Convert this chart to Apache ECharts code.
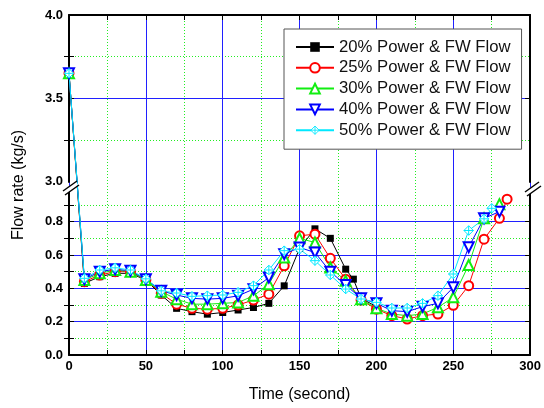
<!DOCTYPE html>
<html><head><meta charset="utf-8">
<script src="https://cdn.jsdelivr.net/npm/echarts@6/dist/echarts.min.js"></script>
<style>html,body{margin:0;padding:0;background:#fff}#c{width:544px;height:408px}</style>
</head><body><div id="c"></div>
<script>
// ---- data ----
const seriesNames = ['20% Power & FW Flow','25% Power & FW Flow','30% Power & FW Flow','40% Power & FW Flow','50% Power & FW Flow'];

const t20 = [0,10,20,30,40,50,60,70,80,90,100,110,120,130,140,150,160,170,180,185,190,200];
const v20 = [3.65,0.43,0.47,0.49,0.49,0.45,0.36,0.28,0.26,0.245,0.255,0.27,0.285,0.31,0.415,0.64,0.757,0.70,0.515,0.455,0.34,0.29];

const t25 = [0,10,20,30,40,50,60,70,80,90,100,110,120,130,140,150,160,170,180,190,200,210,220,230,240,250,260,270,280,285];
const v25 = [3.65,0.44,0.48,0.50,0.50,0.45,0.37,0.305,0.28,0.275,0.28,0.30,0.33,0.365,0.535,0.715,0.725,0.58,0.455,0.33,0.275,0.236,0.216,0.236,0.246,0.298,0.416,0.695,0.82,0.935];

const t30 = [0,10,20,30,40,50,60,70,80,90,100,110,120,130,140,150,160,170,180,190,200,210,220,230,240,250,260,270,280];
const v30 = [3.65,0.45,0.49,0.51,0.50,0.45,0.38,0.335,0.305,0.305,0.31,0.315,0.355,0.425,0.585,0.70,0.675,0.525,0.445,0.335,0.28,0.246,0.236,0.246,0.286,0.346,0.54,0.82,0.905];

const t40 = [0,10,20,30,40,50,60,70,80,90,100,110,120,130,140,150,160,170,180,190,200,210,220,230,240,250,260,270,280];
const v40 = [3.65,0.455,0.50,0.515,0.505,0.455,0.385,0.36,0.34,0.335,0.34,0.355,0.395,0.465,0.605,0.645,0.615,0.50,0.42,0.34,0.31,0.266,0.26,0.29,0.31,0.406,0.647,0.82,0.86];

const t50 = [0,10,20,30,40,50,60,70,80,90,100,110,120,130,140,150,160,170,180,190,200,210,220,230,240,250,260,270,275];
const v50 = [3.65,0.46,0.51,0.523,0.51,0.457,0.385,0.372,0.352,0.356,0.36,0.376,0.416,0.51,0.626,0.635,0.566,0.48,0.396,0.336,0.316,0.282,0.282,0.31,0.356,0.486,0.747,0.817,0.88];

const xMin = 0, xMax = 300, xStep = 50;
const yLabelValues = [0,0.2,0.4,0.6,0.8,3.0,3.5,4.0];
const yMajorValues = [0.2,0.4,0.6,0.8,3.5];
const yMinorValues = [0.1,0.3,0.5,0.7,0.9,3.25,3.75];
const yBreak = {start: 0.98, end: 3.0, gap: 0.06};

// ---- chart ----
const pair = (t, v) => t.map((x, i) => [x, v[i]]);
const FONT = '"Liberation Sans", Arial, sans-serif';
const BLUE = '#2020ff', GREEN = '#22ee22';
const CYAN = '#00e8ff';

const diamondSvg = '<svg xmlns="http://www.w3.org/2000/svg" width="22" height="22" viewBox="0 0 22 22">' +
  '<path d="M11 1.5 L20.5 11 L11 20.5 L1.5 11 Z" fill="#ffffff" stroke="' + CYAN + '" stroke-width="2"/>' +
  '<path d="M11 1.5 V20.5 M1.5 11 H20.5" stroke="' + CYAN + '" stroke-width="2" fill="none"/></svg>';
const diamondSymbol = 'image://data:image/svg+xml;charset=utf-8,' + encodeURIComponent(diamondSvg);

function yAxisBase(pos, extra) {
  return Object.assign({
    type: 'value', position: pos, min: 0, max: 4,
    breaks: [yBreak], breakArea: {show: false},
    axisLine: {show: false},
    axisLabel: {show: false},
    splitLine: {show: false}
  }, extra);
}

const yAxes = [
  yAxisBase('left', {
    axisLine: {show: true, onZero: false, lineStyle: {color: '#000', width: 2}},
    axisTick: {show: true, inside: true, length: 5, customValues: yMajorValues, lineStyle: {color: '#000', width: 1}},
    axisLabel: {show: true, customValues: yLabelValues, margin: 6, fontFamily: FONT, fontWeight: 'bold', fontSize: 13, color: '#000',
      formatter: v => v.toFixed(1)},
    splitLine: {show: true, lineStyle: {color: BLUE, width: 1, type: 'solid'}},
    name: 'Flow rate (kg/s)', nameLocation: 'middle', nameGap: 42,
    nameTextStyle: {fontFamily: FONT, fontSize: 16, color: '#000'}
  }),
  yAxisBase('left', {
    axisTick: {show: true, inside: true, length: 5, customValues: yMinorValues, lineStyle: {color: '#000', width: 1}},
    splitLine: {show: true, lineStyle: {color: GREEN, width: 1, type: [1, 2]}}
  }),
  yAxisBase('right', {
    axisLine: {show: true, onZero: false, lineStyle: {color: '#000', width: 2}},
    axisTick: {show: true, inside: true, length: 5, customValues: yMajorValues, lineStyle: {color: '#000', width: 1}}
  }),
  yAxisBase('right', {
    axisTick: {show: true, inside: true, length: 5, customValues: yMinorValues, lineStyle: {color: '#000', width: 1}}
  })
];

const xAxes = [
  {
    type: 'value', position: 'bottom', min: xMin, max: xMax, interval: xStep,
    axisLine: {show: true, onZero: false, lineStyle: {color: '#000', width: 2}},
    axisTick: {show: true, inside: true, length: 5, lineStyle: {color: '#000', width: 1}},
    minorTick: {show: true, splitNumber: 2, length: 5, lineStyle: {color: '#000', width: 1}},
    axisLabel: {margin: 5, fontFamily: FONT, fontWeight: 'bold', fontSize: 13, color: '#000'},
    splitLine: {show: true, lineStyle: {color: BLUE, width: 1}},
    minorSplitLine: {show: true, lineStyle: {color: GREEN, width: 1, type: [1, 2]}},
    name: 'Time (second)', nameLocation: 'middle', nameGap: 32,
    nameTextStyle: {fontFamily: FONT, fontSize: 16, color: '#000'}
  },
  {
    type: 'value', position: 'top', min: xMin, max: xMax, interval: xStep,
    axisLine: {show: true, onZero: false, lineStyle: {color: '#000', width: 2}},
    axisTick: {show: true, inside: true, length: 5, lineStyle: {color: '#000', width: 1}},
    minorTick: {show: true, splitNumber: 2, length: 5, lineStyle: {color: '#000', width: 1}},
    axisLabel: {show: false},
    splitLine: {show: false}
  }
];

const common = {type: 'line', xAxisIndex: 0, yAxisIndex: 0, animation: false};
const series = [
  Object.assign({}, common, {name: seriesNames[0], data: pair(t20, v20), symbol: 'rect', symbolSize: 7,
    itemStyle: {color: '#000'}, lineStyle: {color: '#000', width: 1}}),
  Object.assign({}, common, {name: seriesNames[1], data: pair(t25, v25), symbol: 'emptyCircle', symbolSize: 9,
    itemStyle: {color: '#ff0000', borderWidth: 1}, lineStyle: {color: '#ff0000', width: 1}}),
  Object.assign({}, common, {name: seriesNames[2], data: pair(t30, v30), symbol: 'emptyTriangle', symbolSize: 10,
    itemStyle: {color: '#11ee11', borderWidth: 1}, lineStyle: {color: '#11ee11', width: 1}}),
  Object.assign({}, common, {name: seriesNames[3], data: pair(t40, v40), symbol: 'emptyTriangle', symbolRotate: 180, symbolSize: 10,
    itemStyle: {color: '#0000ff', borderWidth: 1}, lineStyle: {color: '#0000ff', width: 1}}),
  Object.assign({}, common, {name: seriesNames[4], data: pair(t50, v50),
    symbol: diamondSymbol, symbolSize: 11,
    itemStyle: {color: CYAN}, lineStyle: {color: CYAN, width: 1}})
];

function slash(cx, cy) {
  return [
    {type: 'polygon', shape: {points: [[cx-6, cy+4], [cx+6, cy-5], [cx+8, cy-1], [cx-4, cy+8]]}, style: {fill: '#fff'}, z: 100},
    {type: 'line', shape: {x1: cx-7, y1: cy+5, x2: cx+7, y2: cy-5}, style: {stroke: '#000', lineWidth: 1.5}, z: 101},
    {type: 'line', shape: {x1: cx-5, y1: cy+9, x2: cx+9, y2: cy-1}, style: {stroke: '#000', lineWidth: 1.5}, z: 101}
  ];
}

const chart = echarts.init(document.getElementById('c'), null, {renderer: 'canvas'});
chart.setOption({
  animation: false,
  backgroundColor: '#fff',
  grid: {left: 69, right: 12, top: 15, bottom: 52, containLabel: false},
  xAxis: xAxes,
  yAxis: yAxes,
  legend: {
    orient: 'vertical', left: 284, top: 29, padding: [9, 11, 10, 11],
    itemWidth: 38, itemHeight: 12, itemGap: 2.8,
    backgroundColor: '#fff', borderColor: '#555', borderWidth: 1, borderRadius: 0,
    textStyle: {fontFamily: FONT, fontSize: 16.7, color: '#111', lineHeight: 18},
    data: seriesNames
  },
  series: series,
  graphic: slash(70, 186).concat(slash(532, 187))
});
</script>
</body></html>
